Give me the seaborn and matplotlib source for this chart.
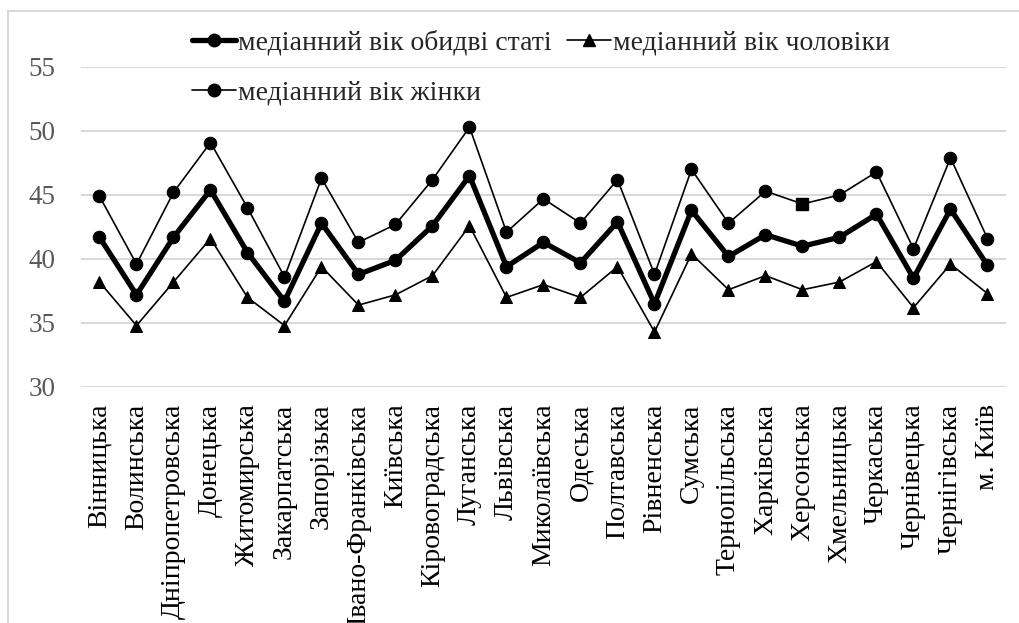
import pandas as pd
import matplotlib.pyplot as plt
import seaborn as sns
from matplotlib.patches import Rectangle
from matplotlib.lines import Line2D

regions = ['Вінницька', 'Волинська', 'Дніпропетровська', 'Донецька', 'Житомирська',
           'Закарпатська', 'Запорізька', 'Івано-Франківська', 'Київська', 'Кіровоградська',
           'Луганська', 'Львівська', 'Миколаївська', 'Одеська', 'Полтавська',
           'Рівненська', 'Сумська', 'Тернопільська', 'Харківська', 'Херсонська',
           'Хмельницька', 'Черкаська', 'Чернівецька', 'Чернігівська', 'м. Київ']

both = [41.7, 37.2, 41.7, 45.4, 40.5, 36.7, 42.8, 38.8, 39.9, 42.6, 46.5, 39.4, 41.3,
        39.7, 42.9, 36.5, 43.8, 40.2, 41.9, 41.0, 41.7, 43.5, 38.5, 43.9, 39.5]
men = [38.2, 34.8, 38.2, 41.6, 37.0, 34.8, 39.4, 36.4, 37.2, 38.7, 42.6, 37.0, 38.0,
       37.0, 39.4, 34.3, 40.4, 37.6, 38.7, 37.6, 38.2, 39.8, 36.2, 39.6, 37.3]
women = [44.9, 39.6, 45.2, 49.1, 44.0, 38.6, 46.3, 41.3, 42.7, 46.2, 50.3, 42.1, 44.7,
         42.8, 46.2, 38.8, 47.0, 42.8, 45.3, 44.3, 45.0, 46.8, 40.8, 47.9, 41.6]

labels = ['медіанний вік обидві статі', 'медіанний вік чоловіки', 'медіанний вік жінки']

df = pd.DataFrame({'region': regions, 'both': both, 'men': men, 'women': women})

sns.set_style('white')
plt.rcParams['font.family'] = ['Liberation Serif', 'DejaVu Serif']

fig = plt.figure(figsize=(10.2, 6.23), dpi=100)
ax = fig.add_axes([81 / 1020, 236 / 623, 925 / 1020, 320 / 623])

# square marker on Херсонська in the women series
sq = regions.index('Херсонська')
circle_idx = [i for i in range(len(regions)) if i != sq]

sns.lineplot(data=df, x='region', y='both', ax=ax, color='black', lw=3.8,
             marker='o', markersize=9, markeredgecolor='black', sort=False)
sns.lineplot(data=df, x='region', y='men', ax=ax, color='black', lw=1.2,
             marker='^', markersize=9, markeredgecolor='black', sort=False)
sns.lineplot(data=df, x='region', y='women', ax=ax, color='black', lw=1.2,
             marker='o', markersize=9, markeredgecolor='black', markevery=circle_idx,
             sort=False)
ax.plot([sq], [women[sq]], marker='s', color='black', markersize=9, ls='none')

ax.set_xlim(-0.5, len(regions) - 0.5)
ax.set_ylim(30, 55)
ax.set_yticks([30, 35, 40, 45, 50, 55])
ax.yaxis.grid(True, color='#d9d9d9', lw=1.5)
ax.xaxis.grid(False)
for s in ax.spines.values():
    s.set_visible(False)
ax.set_xlabel('')
ax.set_ylabel('')
ax.set_xticks(range(len(regions)))
ax.set_xticklabels(regions, rotation=90, fontsize=20, color='black')
ax.tick_params(axis='y', labelsize=19.5, labelcolor='#595959', length=0, pad=18.5)
ax.tick_params(axis='x', length=0, pad=12)

handles = [
    Line2D([], [], color='black', lw=3.8, marker='o', markersize=9),
    Line2D([], [], color='black', lw=1.2, marker='o', markersize=9),
    Line2D([], [], color='black', lw=1.2, marker='^', markersize=9),
]
fig.legend(handles, [labels[0], labels[2], labels[1]], ncol=2, frameon=False,
           loc='upper left', bbox_to_anchor=(167 / 1020, 1 - 5 / 623),
           fontsize=20, handlelength=1.6, handletextpad=0.05, columnspacing=0.55,
           labelspacing=0.88)

fig.patches.append(Rectangle((8 / 1020, -0.1), 1.1, 0.1 + (623 - 11) / 623,
                             transform=fig.transFigure, fill=False,
                             edgecolor='#d9d9d9', lw=1.5))

fig.savefig('out.png', dpi=100)
